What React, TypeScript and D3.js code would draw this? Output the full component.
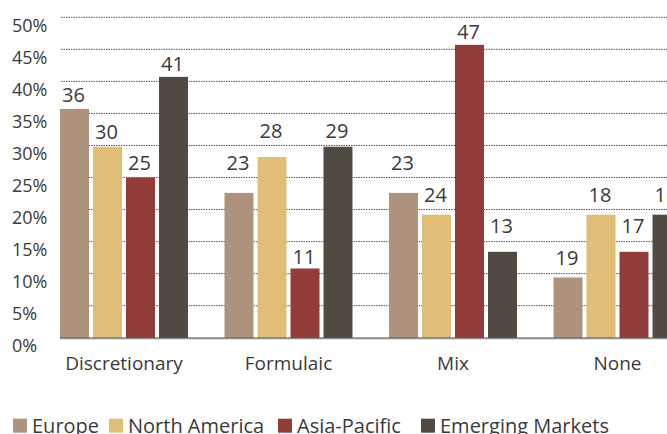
import React from "react";
import * as d3 from "d3";

const categories = ["Discretionary", "Formulaic", "Mix", "None"];
const series = ["Europe", "North America", "Asia-Pacific", "Emerging Markets"];
const colors = ["#AD937D", "#E0BE78", "#913C38", "#504A43"];
// bar heights (%) as drawn, per category, per series
const europe = [35.7, 22.6, 22.6, 9.4];
const northAmerica = [29.8, 28.2, 19.2, 19.2];
const asiaPacific = [25.0, 10.8, 45.7, 13.4];
const emerging = [40.7, 29.8, 13.4, 19.2];
// printed value labels
const europeLabels = [36, 23, 23, 19];
const northAmericaLabels = [30, 28, 24, 18];
const asiaPacificLabels = [25, 11, 47, 17];
const emergingLabels = [41, 29, 13, 18];
// level (%) at which each printed label sits
const europeLabelLevel = [35.7, 25.1, 25.1, 10.3];
const northAmericaLabelLevel = [29.95, 30.1, 20.1, 20.1];
const asiaPacificLabelLevel = [25.1, 10.45, 45.55, 15.3];
const emergingLabelLevel = [40.6, 30.1, 15.3, 20.1];
const yTicks = [0, 5, 10, 15, 20, 25, 30, 35, 40, 45, 50];

const values = [europe, northAmerica, asiaPacific, emerging];
const labels = [europeLabels, northAmericaLabels, asiaPacificLabels, emergingLabels];
const labelLevels = [europeLabelLevel, northAmericaLabelLevel, asiaPacificLabelLevel, emergingLabelLevel];

const W = 667;
const H = 434;
const FONT = "'Open Sans', sans-serif";
const TEXT = "#3a3a3a";

export default function App() {
  const y = d3.scaleLinear().domain([0, 50]).range([337.7, 17.3]);
  const x0 = d3.scaleBand<string>().domain(categories).range([60, 681.5]).paddingInner(0.222).paddingOuter(0);
  const x1 = d3.scaleBand<string>().domain(series).range([0, x0.bandwidth()]).paddingInner(0.121).paddingOuter(0);

  const legendX = [13, 109, 278, 421];

  return (
    <svg width={W} height={H} style={{ position: "absolute", left: 0, top: 0, overflow: "hidden" }} fontFamily={FONT}>
      <rect width={W} height={H} fill="#fff" />
      {yTicks.filter((t) => t > 0).map((t) => (
        <line key={"g" + t} x1={61} x2={W} y1={y(t)} y2={y(t)} stroke="#555" strokeWidth={1} strokeDasharray="1.5,1" />
      ))}
      {yTicks.map((t) => (
        <text key={"t" + t} x={12} y={y(t) + 14.5} fontSize={18} fill={TEXT}>
          {t + "%"}
        </text>
      ))}
      {categories.map((c, ci) => (
        <g key={c} transform={`translate(${x0(c)},0)`}>
          {series.map((s, si) => (
            <rect
              key={s}
              x={x1(s)}
              width={x1.bandwidth()}
              y={y(values[si][ci])}
              height={y(0) - y(values[si][ci])}
              fill={colors[si]}
            />
          ))}
          {series.map((s, si) => (
            <text
              key={"l" + s}
              x={(x1(s) as number) + x1.bandwidth() / 2 - 1}
              y={y(labelLevels[si][ci]) - 7}
              textAnchor="middle"
              fontSize={20}
              fill={TEXT}
            >
              {labels[si][ci]}
            </text>
          ))}
          <text x={x0.bandwidth() / 2} y={369.5} textAnchor="middle" fontSize={19} fill={TEXT}>
            {c}
          </text>
        </g>
      ))}
      <line x1={60} x2={W} y1={y(0) + 0.5} y2={y(0) + 0.5} stroke="#000" strokeOpacity={0.45} strokeWidth={2} />
      {series.map((s, i) => (
        <g key={"leg" + s}>
          <rect x={legendX[i]} y={418.7} width={14} height={14} fill={colors[i]} />
          <text x={legendX[i] + 19} y={433.3} fontSize={20} fill={TEXT}>
            {s}
          </text>
        </g>
      ))}
    </svg>
  );
}
